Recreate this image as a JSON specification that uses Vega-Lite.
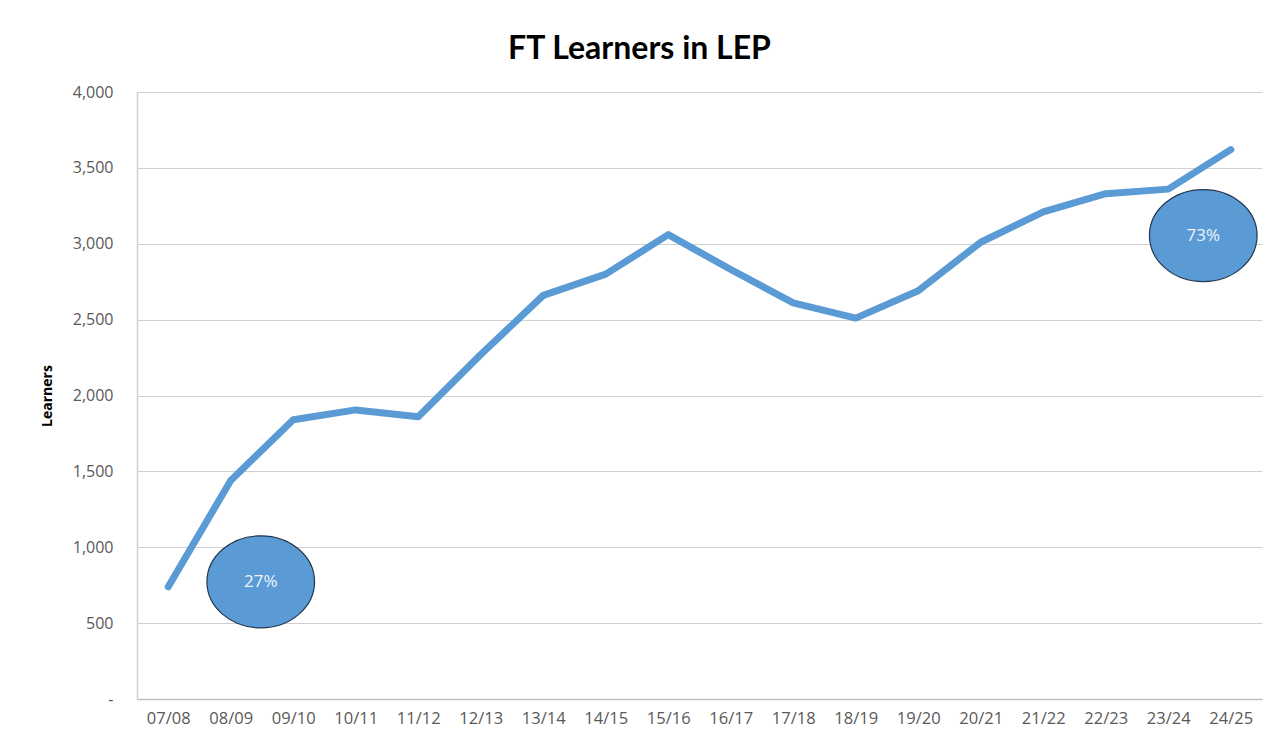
{
  "$schema": "https://vega.github.io/schema/vega-lite/v6.json",
  "width": 1125,
  "height": 607,
  "autosize": {"type": "none"},
  "padding": {"left": 137, "top": 92, "right": 18, "bottom": 48},
  "background": "white",
  "title": {
    "text": "FT Learners in LEP",
    "font": "Lato",
    "fontSize": 32,
    "fontWeight": "bold",
    "color": "#000000",
    "anchor": "middle",
    "dx": -60,
    "offset": 18
  },
  "config": {
    "view": {"stroke": null},
    "font": "Open Sans"
  },
  "datasets": {
    "learners": [
      {"year": "07/08", "learners": 740},
      {"year": "08/09", "learners": 1440},
      {"year": "09/10", "learners": 1840},
      {"year": "10/11", "learners": 1905},
      {"year": "11/12", "learners": 1860},
      {"year": "12/13", "learners": 2270},
      {"year": "13/14", "learners": 2660},
      {"year": "14/15", "learners": 2800},
      {"year": "15/16", "learners": 3060},
      {"year": "16/17", "learners": 2830},
      {"year": "17/18", "learners": 2610},
      {"year": "18/19", "learners": 2510},
      {"year": "19/20", "learners": 2690},
      {"year": "20/21", "learners": 3010},
      {"year": "21/22", "learners": 3210},
      {"year": "22/23", "learners": 3330},
      {"year": "23/24", "learners": 3360},
      {"year": "24/25", "learners": 3620}
    ],
    "shares": [
      {"pos": 1.98, "value": 772, "label": "27%"},
      {"pos": 17.06, "value": 3054, "label": "73%"}
    ]
  },
  "layer": [
    {
      "data": {"name": "learners"},
      "mark": {"type": "line", "color": "#5b9bd5", "strokeWidth": 7, "strokeCap": "round", "strokeJoin": "round"},
      "encoding": {
        "x": {
          "field": "year", "type": "ordinal", "sort": null,
          "scale": {"type": "point", "padding": 0.5},
          "axis": {
            "title": null, "labelAngle": 0, "labelFontSize": 16.5, "labelColor": "#595959",
            "labelPadding": 11, "ticks": false, "domainColor": "#bfbfbf", "domainWidth": 1.5, "grid": false
          }
        },
        "y": {
          "field": "learners", "type": "quantitative",
          "scale": {"domain": [0, 4000]},
          "axis": {
            "title": "Learners", "titleFontSize": 14, "titleFontWeight": "bold", "titleColor": "#000000",
            "titlePadding": 18,
            "labelFontSize": 16, "labelColor": "#595959", "labelPadding": 24,
            "values": [0, 500, 1000, 1500, 2000, 2500, 3000, 3500, 4000],
            "labelExpr": "datum.value == 0 ? '-' : format(datum.value, ',')",
            "ticks": false, "domainColor": "#d0d0d0", "domainWidth": 1.5,
            "gridColor": "#d0d0d0", "gridWidth": 1
          }
        }
      }
    },
    {
      "data": {"name": "shares"},
      "mark": {
        "type": "point", "filled": true, "fill": "#5b9bd5", "stroke": "#22364f", "strokeWidth": 1.2, "opacity": 1,
        "shape": "M -1.17 0 A 1.17 1 0 1 1 1.17 0 A 1.17 1 0 1 1 -1.17 0 Z",
        "size": 8464
      },
      "encoding": {
        "x": {"field": "pos", "type": "quantitative", "scale": {"domain": [0, 18]}, "axis": null},
        "y": {"field": "value", "type": "quantitative"}
      }
    },
    {
      "data": {"name": "shares"},
      "mark": {"type": "text", "color": "#eef3fa", "fontSize": 17, "font": "Open Sans", "align": "center", "baseline": "middle"},
      "encoding": {
        "x": {"field": "pos", "type": "quantitative", "scale": {"domain": [0, 18]}, "axis": null},
        "y": {"field": "value", "type": "quantitative"},
        "text": {"field": "label"}
      }
    }
  ],
  "resolve": {"scale": {"x": "independent"}}
}
